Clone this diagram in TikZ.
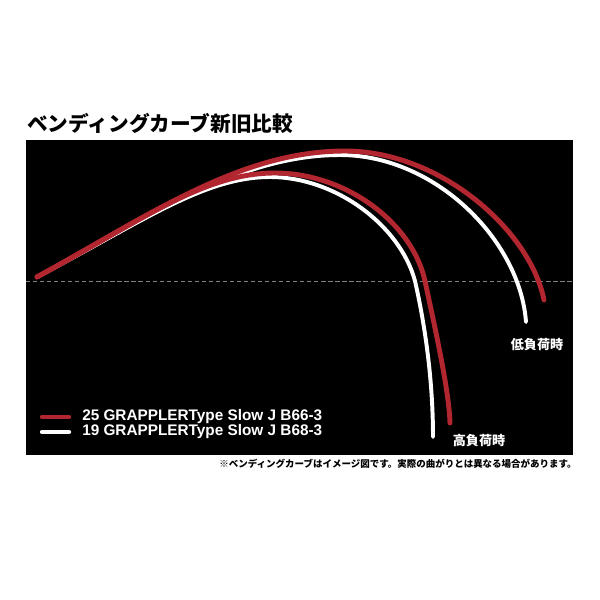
\documentclass[tikz,border=0pt]{standalone}
\usepackage{fontspec}
\usepackage{xcolor}
\newfontfamily\jpfont{Noto Sans CJK JP}
\newfontfamily\lgfont{Liberation Sans}
\definecolor{curvered}{RGB}{178,38,48}
\definecolor{dashgrey}{RGB}{130,130,130}
\usetikzlibrary{positioning}
\tikzset{
  redline/.style={line width=3.5pt, curvered, line cap=round},
  whiteline/.style={line width=2.8pt, white, line cap=round},
  loadlabel/.style={text=white, inner sep=0pt, font=\jpfont\bfseries\fontsize{9.3}{11}\selectfont},
  legendtext/.style={text=white, inner sep=0pt, anchor=west, font=\lgfont\bfseries\fontsize{10.9}{13}\selectfont}
}

\begin{document}
\begin{tikzpicture}[x=0.025cm, y=-0.025cm]
            \useasboundingbox[fill=white] (0,0) rectangle (600,600);
            \fill[black] (26,140) rectangle (573,455);
            \draw[dashgrey, line width=0.5pt, dash pattern=on 3pt off 2pt] (26,281) -- (573,281);

            \node[anchor=west, inner sep=0pt, font=\jpfont\bfseries\fontsize{14.7}{17}\selectfont] (title) at (27,123) {ベンディングカーブ新旧比較};

            \draw[whiteline] (37,277) .. controls (145,220) and (205,177) .. (270,177)
                .. controls (335,177) and (400,225) .. (415,281)
                .. controls (425,325) and (433,380) .. (433,437);
            \draw[whiteline] (37,277) .. controls (150,216) and (240,155) .. (340,155)
                .. controls (435,155) and (520,240) .. (526,322);
            \draw[redline] (37,277) .. controls (145,218) and (205,173) .. (275,173)
                .. controls (345,173) and (412,222) .. (425,281)
                .. controls (435,328) and (449,390) .. (450,423);
            \draw[redline] (37,277) .. controls (150,215) and (240,151) .. (345,151)
                .. controls (440,151) and (530,230) .. (544,300);

            \node[loadlabel] (lowload) at (537,345) {低負荷時};
            \node[loadlabel] (highload) at (479,441) {高負荷時};

            \node[legendtext] (legnew) at (82,417) {25 GRAPPLERType Slow J B66-3};
            \node[legendtext] (legold) at (82,432) {19 GRAPPLERType Slow J B68-3};
            \coordinate (swnew) at (42,417);
            \coordinate (swold) at (42,432);
            \draw[redline, line width=3pt] (swnew) -- ++(27,0);
            \draw[whiteline, line width=3pt] (swold) -- ++(27,0);

            \node[anchor=east, inner sep=0pt, font=\jpfont\bfseries\fontsize{6.75}{8}\selectfont] (note) at (577,464) {※ベンディングカーブはイメージ図です。実際の曲がりとは異なる場合があります。};
\end{tikzpicture}
\end{document}
